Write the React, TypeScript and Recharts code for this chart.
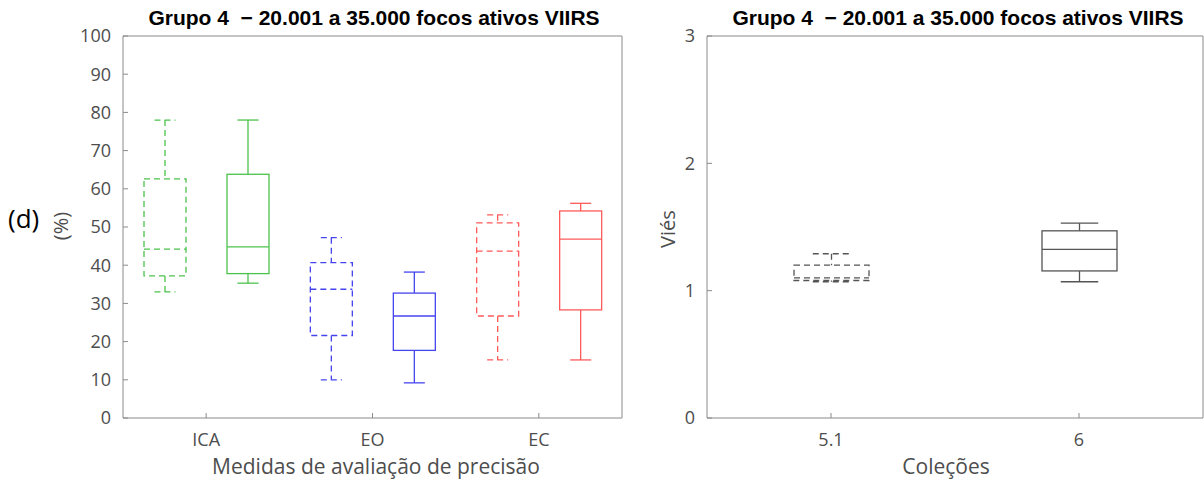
import React from "react";
import { ComposedChart, Bar, XAxis, YAxis } from "recharts";

// Painel esquerdo: medidas de avaliação de precisão (%)
const medidas = ["ICA", "EO", "EC"];
const coresMedidas = ["#4cc24c", "#4545f0", "#ff5a5a"];

// Coleção 5.1 (tracejado): mín, Q1, mediana, Q3, máx
const c51Min = [33, 10, 15.2];
const c51Q1 = [37.2, 21.6, 26.7];
const c51Med = [44.2, 33.7, 43.7];
const c51Q3 = [62.6, 40.7, 51.1];
const c51Max = [78, 47.2, 53.2];

// Coleção 6 (contínuo)
const c6Min = [35.3, 9.2, 15.2];
const c6Q1 = [37.8, 17.7, 28.3];
const c6Med = [44.8, 26.7, 46.8];
const c6Q3 = [63.8, 32.7, 54.2];
const c6Max = [78, 38.2, 56.2];

// Painel direito: viés por coleção
const colecoes = ["5.1", "6"];
const viesMin = [1.07, 1.07];
const viesQ1 = [1.08, 1.155];
const viesMed = [1.1, 1.325];
const viesQ3 = [1.2, 1.47];
const viesMax = [1.29, 1.53];

const pctTicks = [0, 10, 20, 30, 40, 50, 60, 70, 80, 90, 100];
const viesTicks = [0, 1, 2, 3];

const titulo = "Grupo 4  \u2212 20.001 a 35.000 focos ativos VIIRS";

const dadosMedidas = medidas.map((m, i) => ({
  name: m,
  cor: coresMedidas[i],
  r51: [c51Min[i], c51Max[i]],
  s51: [c51Min[i], c51Q1[i], c51Med[i], c51Q3[i], c51Max[i]],
  r6: [c6Min[i], c6Max[i]],
  s6: [c6Min[i], c6Q1[i], c6Med[i], c6Q3[i], c6Max[i]],
}));

const dadosVies = colecoes.map((c, i) => ({
  name: c,
  tracejado: i === 0,
  r: [viesMin[i], viesMax[i]],
  s: [viesMin[i], viesQ1[i], viesMed[i], viesQ3[i], viesMax[i]],
}));

const AXIS = "#8a8a8a";
const TXT = "#4d4d4d";
const FONT = "'Open Sans', sans-serif";
const TITLE_FONT = "'Liberation Sans', Arial, sans-serif";
const tickStyle = { fill: TXT, fontSize: 18, fontFamily: FONT };

function BoxShape(props: any) {
  const { x, y, width, height, stats, color, dashed } = props;
  if (!stats) return null;
  const top = Math.min(y, y + height);
  const h = Math.abs(height);
  const [lo, q1, med, q3, hi] = stats;
  // posição via os extremos já escalados pelo eixo
  const py = (v: number) => top + (h * (hi - v)) / (hi - lo);
  const cx = x + width / 2;
  const cap = width / 4;
  const st = {
    stroke: color,
    strokeWidth: 1.3,
    strokeDasharray: dashed ? "6 4" : undefined,
    fill: "none",
  };
  return (
    <g>
      <line x1={cx} x2={cx} y1={py(hi)} y2={py(q3)} {...st} />
      <line x1={cx} x2={cx} y1={py(q1)} y2={py(lo)} {...st} />
      <line x1={cx - cap} x2={cx + cap} y1={py(hi)} y2={py(hi)} {...st} />
      <line x1={cx - cap} x2={cx + cap} y1={py(lo)} y2={py(lo)} {...st} />
      <rect x={x} y={py(q3)} width={width} height={py(q1) - py(q3)} {...st} />
      <line x1={x} x2={x + width} y1={py(med)} y2={py(med)} {...st} />
    </g>
  );
}

export default function App() {
  return (
    <div style={{ position: "fixed", left: 0, top: 0, width: 1204, height: 481, background: "#fff" }}>
      <div style={{ position: "absolute", left: 0, top: 0 }}>
        <ComposedChart
          width={640}
          height={481}
          data={dadosMedidas}
          barGap={41}
          margin={{ top: 35, right: 17, bottom: 33, left: 43 }}
        >
          <XAxis
            dataKey="name"
            height={30}
            tickSize={-5}
            tickMargin={20}
            tick={tickStyle}
            stroke={AXIS}
            tickLine={{ stroke: AXIS }}
          />
          <XAxis
            xAxisId="top"
            dataKey="name"
            orientation="top"
            scale="band"
            height={1}
            tickSize={-5}
            tick={false}
            stroke={AXIS}
            tickLine={{ stroke: AXIS }}
          />
          <YAxis
            type="number"
            domain={[0, 100]}
            ticks={pctTicks}
            width={80}
            tickSize={-5}
            tickMargin={17}
            tick={tickStyle}
            stroke={AXIS}
            tickLine={{ stroke: AXIS }}
          />
          <YAxis
            yAxisId="right"
            orientation="right"
            type="number"
            domain={[0, 100]}
            ticks={pctTicks}
            width={1}
            tickSize={-5}
            tick={false}
            stroke={AXIS}
            tickLine={{ stroke: AXIS }}
          />
          <Bar
            dataKey="r51"
            barSize={42}
            isAnimationActive={false}
            shape={(p: any) => <BoxShape {...p} stats={p.payload.s51} color={p.payload.cor} dashed />}
          />
          <Bar
            dataKey="r6"
            barSize={42}
            isAnimationActive={false}
            shape={(p: any) => <BoxShape {...p} stats={p.payload.s6} color={p.payload.cor} />}
          />
        </ComposedChart>
      </div>
      <div style={{ position: "absolute", left: 640, top: 0 }}>
        <ComposedChart
          width={564}
          height={481}
          data={dadosVies}
          margin={{ top: 35, right: 0, bottom: 33, left: 27 }}
        >
          <XAxis
            dataKey="name"
            height={30}
            tickSize={-5}
            tickMargin={20}
            tick={tickStyle}
            stroke={AXIS}
            tickLine={{ stroke: AXIS }}
          />
          <XAxis
            xAxisId="top"
            dataKey="name"
            orientation="top"
            scale="band"
            height={1}
            tickSize={-5}
            tick={false}
            stroke={AXIS}
            tickLine={{ stroke: AXIS }}
          />
          <YAxis
            type="number"
            domain={[0, 3]}
            ticks={viesTicks}
            width={40}
            tickSize={-5}
            tickMargin={17}
            tick={tickStyle}
            stroke={AXIS}
            tickLine={{ stroke: AXIS }}
          />
          <YAxis
            yAxisId="right"
            orientation="right"
            type="number"
            domain={[0, 3]}
            ticks={viesTicks}
            width={1}
            tickSize={-5}
            tick={false}
            stroke={AXIS}
            tickLine={{ stroke: AXIS }}
          />
          <Bar
            dataKey="r"
            barSize={75}
            isAnimationActive={false}
            shape={(p: any) => (
              <BoxShape {...p} stats={p.payload.s} color="#555555" dashed={p.payload.tracejado} />
            )}
          />
        </ComposedChart>
      </div>
      <svg
        width={1204}
        height={481}
        style={{ position: "absolute", left: 0, top: 0, pointerEvents: "none" }}
      >
        <text x={374} y={25} textAnchor="middle" fontFamily={TITLE_FONT} fontWeight="bold" fontSize={21} fill="#000" style={{ whiteSpace: "pre" }}>
          {titulo}
        </text>
        <text x={958} y={25} textAnchor="middle" fontFamily={TITLE_FONT} fontWeight="bold" fontSize={21} fill="#000" style={{ whiteSpace: "pre" }}>
          {titulo}
        </text>
        <text x={8} y={228} fontFamily={FONT} fontSize={26} fill="#000">
          (d)
        </text>
        <text x={60} y={226} textAnchor="middle" dominantBaseline="central" transform="rotate(-90 60 226)" fontFamily={FONT} fontSize={20} fill={TXT}>
          (%)
        </text>
        <text x={667} y={229} textAnchor="middle" dominantBaseline="central" transform="rotate(-90 667 229)" fontFamily={FONT} fontSize={20} fill={TXT}>
          Viés
        </text>
        <text x={376} y={474} textAnchor="middle" fontFamily={FONT} fontSize={21} fill={TXT}>
          Medidas de avaliação de precisão
        </text>
        <text x={946} y={474} textAnchor="middle" fontFamily={FONT} fontSize={21} fill={TXT}>
          Coleções
        </text>
      </svg>
    </div>
  );
}
